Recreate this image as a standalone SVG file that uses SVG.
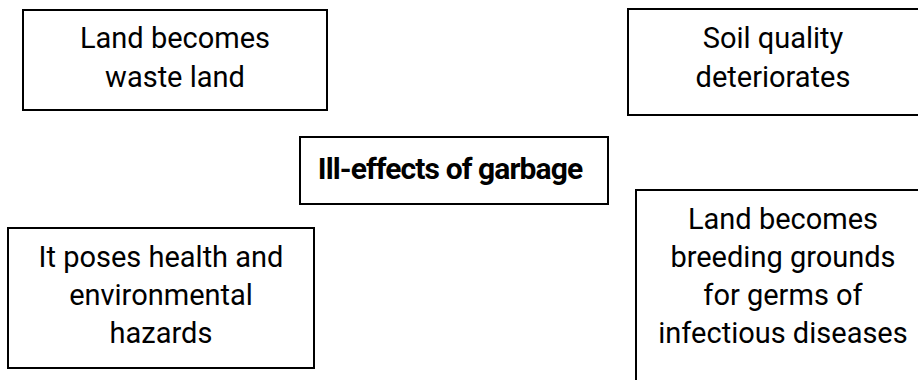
<svg xmlns="http://www.w3.org/2000/svg" width="918" height="380" viewBox="0 0 918 380">
<style>
.box{fill:#fff;stroke:#000;stroke-width:2}
.t{font-family:Roboto,"Liberation Sans",sans-serif;font-size:29px;fill:#000;text-anchor:middle}
.c{font-family:Roboto,"Liberation Sans",sans-serif;font-size:30px;font-weight:bold;fill:#000;text-anchor:middle;letter-spacing:-0.9px}
</style>
<rect width="918" height="380" fill="#fff"/>
<g id="connectors"></g>
<g id="n1">
<rect class="box" x="23" y="10" width="304" height="100"/>
<text class="t" x="175" y="48">Land becomes</text>
<text class="t" x="175" y="87">waste land</text>
</g>
<g id="n2">
<rect class="box" x="628" y="9" width="300" height="106"/>
<text class="t" x="773" y="48">Soil quality</text>
<text class="t" x="773" y="87">deteriorates</text>
</g>
<g id="center">
<rect class="box" x="300" y="137" width="308" height="67"/>
<text class="c" x="450" y="179">Ill-effects of garbage</text>
</g>
<g id="n4">
<rect class="box" x="8" y="228" width="306" height="140"/>
<text class="t" x="161" y="267">It poses health and</text>
<text class="t" x="161" y="305">environmental</text>
<text class="t" x="161" y="343">hazards</text>
</g>
<g id="n5">
<rect class="box" x="636" y="190" width="300" height="200"/>
<text class="t" x="783" y="229">Land becomes</text>
<text class="t" x="783" y="267">breeding grounds</text>
<text class="t" x="783" y="305">for germs of</text>
<text class="t" x="783" y="343">infectious diseases</text>
</g>
</svg>
